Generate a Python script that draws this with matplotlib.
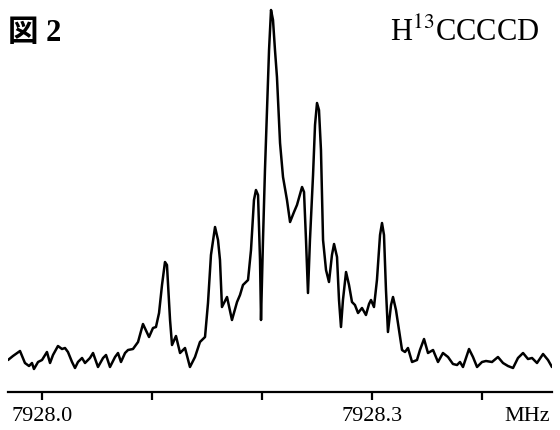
import numpy as np
import matplotlib
matplotlib.use("Agg")
import matplotlib.pyplot as plt

# -----------------------------
# Data
# -----------------------------
# frequency offset from 7928.0 MHz, in kHz
offset_khz = [
    -30.9, -26.4, -20.0, -15.5, -11.8, -9.1, -7.3, -3.6, 0.0, 4.5,
    7.3, 10.0, 14.5, 18.2, 20.9, 23.6, 27.3, 30.0, 32.7, 36.4,
    39.1, 43.6, 46.4, 50.9, 55.5, 58.2, 61.8, 66.4, 69.1, 71.8,
    75.5, 78.2, 82.7, 87.3, 91.8, 97.3, 100.9, 103.6, 106.4, 109.1,
    111.8, 113.6, 116.4, 118.2, 121.8, 125.5, 130.0, 134.5, 139.1, 143.6,
    148.2, 150.9, 153.6, 157.3, 160.0, 161.8, 163.6, 168.2, 172.7, 177.3,
    180.0, 182.7, 187.3, 190.0, 192.7, 194.5, 196.4, 198.2, 199.1, 200.9,
    202.7, 204.5, 206.4, 208.2, 210.0, 211.8, 213.6, 216.4, 219.1, 222.7,
    225.5, 229.1, 231.8, 236.4, 238.2, 240.0, 241.8, 243.6, 246.4, 248.2,
    250.0, 251.8, 253.6, 255.5, 258.2, 260.9, 263.6, 265.5, 268.2, 270.0,
    271.8, 273.6, 276.4, 279.1, 281.8, 284.5, 287.3, 290.9, 294.5, 297.3,
    299.1, 301.8, 304.5, 307.3, 309.1, 310.9, 312.7, 314.5, 317.3, 319.1,
    321.8, 325.5, 327.3, 330.0, 332.7, 336.4, 340.9, 343.6, 347.3, 350.9,
    355.5, 360.0, 364.5, 369.1, 373.6, 377.3, 380.0, 382.7, 385.5, 388.2,
    391.8, 395.5, 400.0, 403.6, 409.1, 414.5, 419.1, 423.6, 428.2, 432.7,
    437.3, 441.8, 445.5, 450.0, 455.5, 460.0, 463.6,
]
# signal intensity, arbitrary units
intensity = [
    20, 24, 29, 17, 14, 17, 11, 18, 20, 28,
    17, 25, 34, 31, 32, 28, 18, 12, 18, 22,
    17, 22, 27, 13, 22, 25, 13, 23, 27, 18,
    27, 30, 31, 38, 56, 43, 52, 53, 67, 95,
    118, 115, 60, 35, 44, 27, 32, 13, 23, 38,
    43, 77, 125, 153, 140, 120, 73, 83, 60, 78,
    85, 95, 100, 130, 180, 190, 185, 120, 60, 140,
    210, 270, 330, 370, 360, 330, 303, 237, 203, 180,
    158, 168, 175, 193, 188, 140, 87, 140, 205, 255,
    277, 270, 230, 140, 110, 98, 125, 136, 123, 80,
    53, 80, 108, 95, 78, 75, 67, 72, 65, 76,
    80, 73, 100, 145, 157, 145, 90, 48, 75, 83,
    70, 43, 30, 28, 32, 18, 20, 30, 41, 27,
    30, 18, 27, 23, 16, 15, 18, 13, 22, 31,
    23, 13, 18, 19, 18, 23, 17, 14, 12, 22,
    27, 21, 22, 17, 26, 20, 13,
]
assert len(offset_khz) == len(intensity)

tick_mhz = [7928.0, 7928.1, 7928.2, 7928.3, 7928.4]
tick_labels = ["7928.0", "", "", "7928.3", ""]

freq_mhz = 7928.0 + np.array(offset_khz) / 1000.0

# -----------------------------
# Plot
# -----------------------------
plt.rcParams["mathtext.fontset"] = "stix"
SERIF = ["Liberation Serif", "DejaVu Serif"]

W, H = 560, 430
fig = plt.figure(figsize=(W / 100, H / 100), dpi=100)
ax = fig.add_axes([8 / W, 38 / H, 544 / W, 392 / H])

ax.plot(freq_mhz, intensity, color="black", lw=1.8,
        solid_joinstyle="round", solid_capstyle="round")

ax.set_xlim(7928.0 - 34 / 1100, 7928.0 + 510 / 1100)
ax.set_ylim(-12, 380)

for s in ["left", "right", "top"]:
    ax.spines[s].set_visible(False)
ax.spines["bottom"].set_linewidth(1.6)
ax.set_yticks([])
ax.set_xticks(tick_mhz)
ax.set_xticklabels(tick_labels, family=SERIF, fontsize=16)
ax.tick_params(axis="x", direction="out", length=6, width=1.6, pad=5)

ax.annotate("MHz", xy=(7928.0 + 485 / 1100, 0), xycoords=ax.get_xaxis_transform(),
            xytext=(0, -11), textcoords="offset points",
            ha="center", va="top", family=SERIF, fontsize=16)

fig.text(8 / W, 1 - 41 / H, "図 2", family=["Liberation Serif", "Noto Sans CJK JP"],
         fontsize=22, fontweight="bold", ha="left", va="baseline")
fig.text(390 / W, 1 - 41 / H, "H$^{13}$CCCCD", family=SERIF,
         fontsize=22, ha="left", va="baseline")

fig.savefig("out.png", dpi=100)
